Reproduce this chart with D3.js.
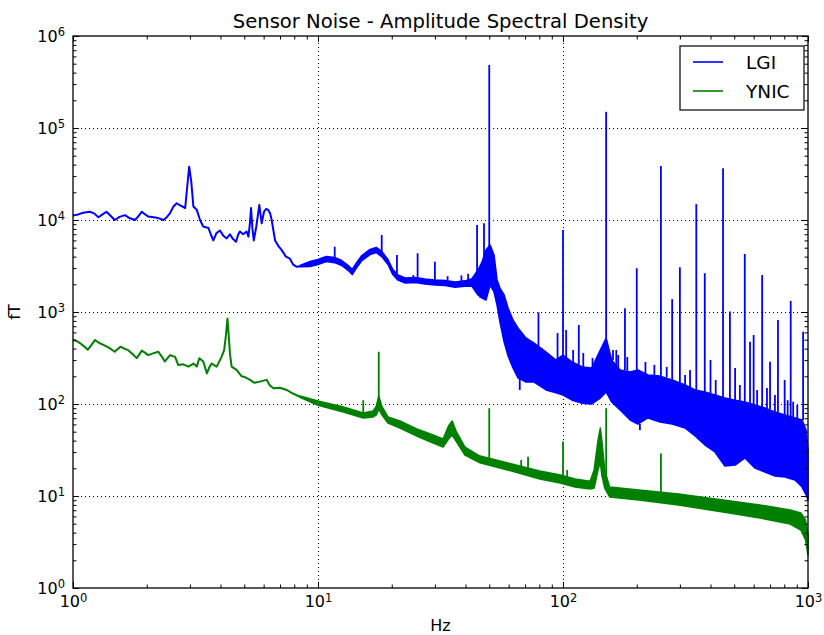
<!DOCTYPE html>
<html>
<head>
<meta charset="utf-8">
<script src="https://cdn.jsdelivr.net/npm/d3@7"></script>
<style>
	body { margin: 0; background: #fff; }
	text { font-family: "DejaVu Sans", sans-serif; fill: #000; }
	.grid line { stroke: #000; stroke-width: 1; stroke-dasharray: 1,3; }
	.grid path { display: none; }
	.ticks path { display: none; }
	.ticks line { stroke: #000; stroke-width: 1; }
</style>
</head>
<body>
<div id="chart"></div>
<script>

///////////////////////////////////////////////////////////////////////////
////////////////////////////// Data /////////////////////////////////////////
///////////////////////////////////////////////////////////////////////////

var seriesNames = ["LGI", "YNIC"];
var xMajor = [1, 10, 100, 1000];
var yMajor = [1, 10, 100, 1000, 10000, 100000, 1000000];

//LGI - thin trace at low frequencies [Hz, fT]
var lgiTrace = [
	[1.0, 11200],[1.05, 11500],[1.1, 12000],[1.17, 12300],[1.22, 11800],[1.27, 10700],[1.32, 11500],
	[1.37, 12300],[1.42, 11200],[1.48, 10000],[1.55, 10800],[1.63, 11300],[1.7, 10500],[1.79, 10000],
	[1.85, 11000],[1.91, 12300],[1.97, 11500],[2.03, 10900],[2.2, 10600],[2.34, 10000],[2.42, 10800],
	[2.49, 11900],[2.57, 14000],[2.65, 15200],[2.75, 14300],[2.87, 13500],[2.93, 24000],[2.98, 38000],
	[3.04, 26000],[3.10, 14000],[3.2, 12900],[3.3, 10000],[3.40, 8500],[3.57, 8200],[3.65, 7000],
	[3.74, 6000],[3.85, 7200],[3.98, 7700],[4.1, 6800],[4.24, 6300],[4.37, 7000],[4.5, 6200],
	[4.63, 5800],[4.72, 6900],[4.80, 7500],[4.95, 7000],[5.11, 7500],[5.20, 6600],[5.27, 9000],
	[5.33, 13500],[5.40, 8000],[5.47, 6000],[5.6, 8500],[5.76, 14600],[5.89, 9200],[6.02, 12300],
	[6.15, 13200],[6.26, 12900],[6.38, 11800],[6.47, 10000],[6.68, 6000],[6.9, 5200],[7.11, 4700],
	[7.4, 4000],[7.68, 3800],[7.9, 3300],[8.19, 3100],[8.44, 3150]
];

//LGI - noisy part, lower and upper envelope [Hz, low, high]
var lgiBand = [
	[8.44, 3100, 3200],[9.28, 3120, 3540],[10, 3280, 3720],[10.8, 3540, 4020],[11.7, 3440, 3910],
	[12.5, 3200, 3630],[13.3, 2820, 3200],[13.8, 2550, 2900],[14.3, 2960, 3370],[15.1, 3620, 4110],
	[16.3, 4210, 4790],[17.3, 4420, 5030],[18.2, 4000, 4550],[19.3, 3280, 3720],[20.2, 2550, 2900],
	[21.2, 2220, 2530],[22.7, 2060, 2340],[24.9, 2090, 2370],[27.3, 2010, 2290],[30.0, 1960, 2230],
	[33.0, 1940, 2200],[36.3, 1860, 2120],[39.8, 1910, 2180],[42.5, 1900, 2300],[45.0, 1530, 2860],
	[46.7, 1420, 3490],[48.5, 1350, 4720],[50.4, 1960, 5350],[52.3, 1650, 4170],[53.8, 1190, 2230],
	[55.3, 778, 1820],[57.5, 472, 1530],[59.7, 332, 1100],[62.5, 246, 819],[65.5, 192, 670],
	[70.6, 173, 522],[76.2, 173, 460],[85.3, 142, 367],[93.6, 132, 301],[100, 125, 341],
	[109, 110, 286],[120, 102, 253],[131, 100, 246],[142, 116, 386],[150, 135, 522],
	[158, 105, 301],[171, 86, 234],[188, 67, 223],[202, 60.6, 234],[222, 70.5, 207],
	[249, 63.7, 201],[279, 60.6, 182],[315, 54.8, 161],[346, 44.9, 142],[380, 35.8, 135],
	[417, 30.1, 125],[458, 21.2, 116],[504, 21.7, 110],[553, 25.9, 105],[608, 20.1, 97.5],
	[667, 18.2, 90.5],[733, 16.5, 81.8],[805, 16.1, 75.9],[885, 14.9, 70.5],[946, 12.5, 67],
	[982, 10.3, 52.1],[1000, 9.05, 31.6]
];

//LGI - line peaks and dips [Hz, from, to]
var lgiPeaks = [
	[11.7, 3900, 5130],[18.2, 4500, 6870],[21.0, 2600, 4170],[24.5, 2300, 2520],[25.5, 2360, 4350],
	[30.0, 2230, 3520],[33.8, 2200, 2450],[38.5, 2120, 2500],[41, 2150, 2600],
	[44.6, 2600, 8830],[46.0, 2000, 1420],[47.6, 3500, 9200],[50, 5000, 484000],[66.6, 190, 142],
	[79.4, 400, 990],[81.7, 380, 407],[95.0, 300, 591],[100, 341, 7790],
	[103, 301, 637],[110, 286, 386],[116, 266, 722],[121, 253, 358],[132, 246, 317],
	[150, 522, 150000],[160, 300, 386],[165, 234, 386],[168, 240, 341],
	[179, 234, 1100],[183, 223, 324],[200, 234, 2990],[206, 61, 52],[217, 210, 286],[236, 205, 266],
	[251, 201, 38600],[265, 195, 253],[279, 182, 1380],[300, 161, 3060],[315, 161, 207],
	[330, 150, 234],[350, 142, 14900],[379, 135, 2640],[400, 130, 301],[420, 125, 182],
	[450, 116, 36500],[480, 110, 1010],[504, 110, 246],[527, 108, 161],[552, 105, 4270],
	[580, 100, 476],[600, 97, 562],[620, 95, 142],[650, 90, 2520],[680, 90, 149],[700, 88, 288],
	[733, 82, 125],[754, 80, 819],[803, 76, 182],[826, 74, 110],[850, 73, 1320],
	[870, 72, 106],[904, 70, 97.5],[955, 67, 611]
];

//YNIC - thin trace at low frequencies [Hz, fT]
var ynicTrace = [
	[1.0, 500],[1.04, 480],[1.08, 450],[1.15, 390],[1.19, 440],[1.23, 497],[1.28, 460],[1.33, 440],
	[1.4, 410],[1.48, 370],[1.56, 420],[1.62, 400],[1.68, 385],[1.75, 350],[1.82, 315],[1.91, 380],
	[1.97, 360],[2.03, 340],[2.12, 355],[2.23, 370],[2.3, 330],[2.37, 290],[2.49, 340],[2.61, 325],
	[2.69, 265],[2.82, 270],[2.96, 255],[3.10, 275],[3.20, 255],[3.28, 315],[3.40, 290],[3.46, 250],
	[3.52, 215],[3.60, 250],[3.68, 275],[3.86, 255],[4.04, 325],[4.14, 385],[4.21, 560],[4.27, 850],
	[4.32, 560],[4.37, 355],[4.44, 255],[4.65, 235],[4.88, 200],[5.05, 195],[5.28, 183],[5.5, 170],
	[5.79, 175],[6.17, 183],[6.35, 160],[6.58, 148],[7.0, 150],[7.45, 142],[7.9, 130],[8.44, 120]
];

//YNIC - noisy part [Hz, low, high]
var ynicBand = [
	[8.44, 118, 122],[10, 97, 108],[12.7, 82, 93],[15.3, 70.4, 79.8],[16.8, 72.3, 84],
	[17.3, 76, 95],[17.7, 88, 122],[18.2, 77, 95],[19.3, 62.1, 72.3],[21.6, 54.8, 65.4],
	[25.3, 44.9, 53.5],[29.5, 37.6, 46],[32.4, 34, 41.7],[34.1, 41.6, 57.7],[35.3, 46, 65.4],
	[36.6, 39.6, 50.8],[39.8, 27.9, 34],[45.8, 22.9, 27.2],[55.3, 20.2, 24],[66.5, 17.7, 21.2],
	[80.4, 15.3, 18.7],[97.5, 13.8, 16.9],[112, 12.5, 15.3],[129, 11.9, 14.5],[134, 12.2, 19.2],
	[139, 19.2, 40.6],[142, 23.4, 54.8],[144, 16.9, 40.6],[148, 12.2, 19.2],[155, 9.75, 12.5],
	[204, 9.05, 11.6],[296, 7.98, 10.5],[450, 6.70, 9.05],[636, 5.77, 7.98],[846, 4.96, 7.05],
	[935, 4.27, 6.53],[977, 3.32, 5.48],[1000, 2.28, 3.77]
];

//YNIC - line peaks [Hz, from, to]
var ynicPeaks = [
	[15.3, 78, 110],[17.7, 100, 370],[50, 24, 90],[67.5, 20, 24.6],[72, 20, 26.7],[100, 16.5, 39],
	[104, 15.8, 19.2],[150, 12, 90],[251, 10.3, 29]
];

///////////////////////////////////////////////////////////////////////////
//////////////////////////// Set up the SVG ///////////////////////////////
///////////////////////////////////////////////////////////////////////////

var totalWidth = 824,
	totalHeight = 635;
var margin = { top: 36, right: 16, bottom: 47, left: 73 };
var width = totalWidth - margin.left - margin.right,
	height = totalHeight - margin.top - margin.bottom;

var colors = { LGI: "#0000ff", YNIC: "#008000" };

var svg = d3.select("#chart")
	.append("svg")
	.attr("width", totalWidth)
	.attr("height", totalHeight)
	.append("g")
	.attr("transform", "translate(" + margin.left + "," + margin.top + ")");

var x = d3.scaleLog().domain([1, 1000]).range([0, width]);
var y = d3.scaleLog().domain([1, 1e6]).range([height, 0]);

//Minor tick values 2..9 of every decade
function minorTicks(domain) {
	var out = [];
	for (var d = domain[0]; d < domain[1]; d *= 10) {
		for (var k = 2; k <= 9; k++) out.push(d * k);
	}
	return out;
}
var xMinor = minorTicks(x.domain()),
	yMinor = minorTicks(y.domain());

///////////////////////////////////////////////////////////////////////////
////////////////////////////// Grid lines /////////////////////////////////
///////////////////////////////////////////////////////////////////////////

svg.append("g").attr("class", "grid")
	.attr("transform", "translate(0," + height + ")")
	.call(d3.axisBottom(x).tickValues(xMajor.slice(1, -1)).tickSize(-height).tickFormat(""));

svg.append("g").attr("class", "grid")
	.call(d3.axisLeft(y).tickValues(yMajor.slice(1, -1)).tickSize(-width).tickFormat(""));

///////////////////////////////////////////////////////////////////////////
///////////////////////////// Draw the series /////////////////////////////
///////////////////////////////////////////////////////////////////////////

var line = d3.line()
	.x(function(d) { return x(d[0]); })
	.y(function(d) { return y(d[1]); });

var area = d3.area()
	.x(function(d) { return x(d[0]); })
	.y0(function(d) { return y(d[1]); })
	.y1(function(d) { return y(d[2]); });

function drawSeries(name, trace, band, peaks) {
	var col = colors[name];
	var g = svg.append("g").attr("class", "series-" + name);

	g.append("path")
		.datum(trace)
		.attr("d", line)
		.style("fill", "none")
		.style("stroke", col)
		.style("stroke-width", 2)
		.style("stroke-linejoin", "round");

	g.append("path")
		.datum(band)
		.attr("d", area)
		.style("fill", col)
		.style("stroke", col)
		.style("stroke-width", 1.5)
		.style("stroke-linejoin", "round");

	g.selectAll(".peak")
		.data(peaks)
		.enter().append("line")
		.attr("class", "peak")
		.attr("x1", function(d) { return x(d[0]); })
		.attr("x2", function(d) { return x(d[0]); })
		.attr("y1", function(d) { return y(d[1]); })
		.attr("y2", function(d) { return y(d[2]); })
		.style("stroke", col)
		.style("stroke-width", 1.8);
}//function drawSeries

drawSeries("LGI", lgiTrace, lgiBand, lgiPeaks);
drawSeries("YNIC", ynicTrace, ynicBand, ynicPeaks);

///////////////////////////////////////////////////////////////////////////
//////////////////////////////// Axes /////////////////////////////////////
///////////////////////////////////////////////////////////////////////////

var majorLen = 6, minorLen = 3.5;

function powLabel(sel) {
	sel.selectAll(".tick text").each(function(d) {
		var t = d3.select(this).text(null);
		t.append("tspan").text("10");
		t.append("tspan")
			.attr("dy", "-0.45em")
			.style("font-size", "11.5px")
			.text(Math.round(Math.log10(d)));
	});
}

//bottom
svg.append("g").attr("class", "ticks")
	.attr("transform", "translate(0," + height + ")")
	.call(d3.axisBottom(x).tickValues(xMinor).tickSize(-minorLen).tickFormat(""));
svg.append("g").attr("class", "ticks x-major")
	.attr("transform", "translate(0," + height + ")")
	.call(d3.axisBottom(x).tickValues(xMajor).tickSize(-majorLen).tickPadding(7.5))
	.call(function(s) { s.selectAll("text").style("font-size", "16px").attr("fill", null); })
	.call(powLabel);

//top
svg.append("g").attr("class", "ticks")
	.call(d3.axisTop(x).tickValues(xMinor).tickSize(-minorLen).tickFormat(""));
svg.append("g").attr("class", "ticks")
	.call(d3.axisTop(x).tickValues(xMajor).tickSize(-majorLen).tickFormat(""));

//left
svg.append("g").attr("class", "ticks")
	.call(d3.axisLeft(y).tickValues(yMinor).tickSize(-minorLen).tickFormat(""));
svg.append("g").attr("class", "ticks y-major")
	.call(d3.axisLeft(y).tickValues(yMajor).tickSize(-majorLen).tickPadding(8))
	.call(function(s) { s.selectAll("text").style("font-size", "16px").attr("fill", null); })
	.call(powLabel);

//right
svg.append("g").attr("class", "ticks")
	.attr("transform", "translate(" + width + ",0)")
	.call(d3.axisRight(y).tickValues(yMinor).tickSize(-minorLen).tickFormat(""));
svg.append("g").attr("class", "ticks")
	.attr("transform", "translate(" + width + ",0)")
	.call(d3.axisRight(y).tickValues(yMajor).tickSize(-majorLen).tickFormat(""));

//Frame
svg.append("rect")
	.attr("width", width)
	.attr("height", height)
	.style("fill", "none")
	.style("stroke", "#000")
	.style("stroke-width", 1.3);

///////////////////////////////////////////////////////////////////////////
////////////////////////////// Titles /////////////////////////////////////
///////////////////////////////////////////////////////////////////////////

svg.append("text")
	.attr("x", width / 2)
	.attr("y", -8)
	.style("text-anchor", "middle")
	.style("font-size", "19.6px")
	.text("Sensor Noise - Amplitude Spectral Density");

svg.append("text")
	.attr("x", width / 2)
	.attr("y", height + 42.5)
	.style("text-anchor", "middle")
	.style("font-size", "16px")
	.text("Hz");

svg.append("text")
	.attr("transform", "translate(" + (-53) + "," + (height / 2) + ") rotate(-90)")
	.style("text-anchor", "middle")
	.style("font-size", "16px")
	.text("fT");

///////////////////////////////////////////////////////////////////////////
////////////////////////////// Legend /////////////////////////////////////
///////////////////////////////////////////////////////////////////////////

var legend = svg.append("g")
	.attr("transform", "translate(" + (680 - margin.left) + "," + (46 - margin.top) + ")");

legend.append("rect")
	.attr("width", 124)
	.attr("height", 64)
	.style("fill", "#fff")
	.style("stroke", "#000")
	.style("stroke-width", 1.2);

var legendItem = legend.selectAll(".legend-item")
	.data(seriesNames)
	.enter().append("g")
	.attr("class", "legend-item")
	.attr("transform", function(d, i) { return "translate(0," + (16 + i * 29) + ")"; });

legendItem.append("line")
	.attr("x1", 13).attr("x2", 43)
	.style("stroke", function(d) { return colors[d]; })
	.style("stroke-width", 1.6);

legendItem.append("text")
	.attr("x", 66)
	.attr("y", 7)
	.style("font-size", "18.5px")
	.text(function(d) { return d; });

</script>
</body>
</html>
